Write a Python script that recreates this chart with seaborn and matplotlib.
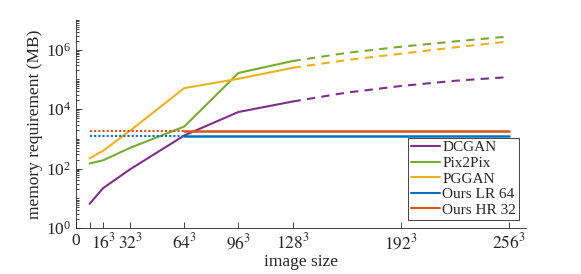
import matplotlib
matplotlib.use("Agg")
import matplotlib.pyplot as plt
from matplotlib.ticker import LogLocator, NullFormatter
import seaborn as sns

# image side length (x axis is linear in side length, labelled as n^3)
sizes_measured = [8, 16, 32, 64, 96, 128]
sizes_projected = [128, 160, 192, 224, 256]

dcgan = [6.5, 22, 95, 1300, 8000, 18000]
dcgan_proj = [18000, 36000, 60000, 90000, 120000]
pix2pix = [148, 190, 500, 2600, 165000, 415000]
pix2pix_proj = [415000, 780000, 1260000, 1900000, 2800000]
pggan = [220, 400, 1900, 51000, 105000, 245000]
pggan_proj = [245000, 450000, 730000, 1200000, 1900000]

ours_lr = 1200   # Ours LR 64
ours_hr = 1850   # Ours HR 32
ours_start, ours_switch, ours_end = 8, 64, 256

xticks = [0, 8, 16, 32, 64, 96, 128, 192, 256]
xlabels = ["0", "", r"$16^3$", r"$32^3$", r"$64^3$", r"$96^3$",
           r"$128^3$", r"$192^3$", r"$256^3$"]

colors = {"DCGAN": "#7E2F8E", "Pix2Pix": "#77AC30", "PGGAN": "#EDB120",
          "Ours LR 64": "#0072BD", "Ours HR 32": "#D95319"}

sns.set_style("ticks")
plt.rcParams["font.family"] = ["Liberation Serif", "DejaVu Serif"]
plt.rcParams["mathtext.fontset"] = "stix"

fig = plt.figure(figsize=(5.81, 2.74), dpi=100)
ax = fig.add_axes([0.131, 0.168, 0.774, 0.759])

lw = 1.5
handles = []
for name, vals, proj in [("DCGAN", dcgan, dcgan_proj),
                         ("Pix2Pix", pix2pix, pix2pix_proj),
                         ("PGGAN", pggan, pggan_proj)]:
    sns.lineplot(x=sizes_measured, y=vals, color=colors[name], lw=lw, ax=ax)
    sns.lineplot(x=sizes_projected, y=proj, color=colors[name], lw=lw,
                 linestyle=(0, (4, 3)), ax=ax)

for name, val in [("Ours LR 64", ours_lr), ("Ours HR 32", ours_hr)]:
    sns.lineplot(x=[ours_start, ours_switch], y=[val, val], color=colors[name],
                 lw=lw, linestyle=(0, (1, 1)), ax=ax)
    sns.lineplot(x=[ours_switch, ours_end], y=[val, val], color=colors[name],
                 lw=lw + 0.3, ax=ax)

for name in colors:
    handles.append(plt.Line2D([], [], color=colors[name], lw=lw, label=name))

ax.set_yscale("log")
ax.set_ylim(1, 1e7)
ax.set_xlim(0, 266)
ax.set_yticks([1, 1e2, 1e4, 1e6])
ax.yaxis.set_minor_locator(LogLocator(base=10, subs=range(1, 10), numticks=20))
ax.yaxis.set_minor_formatter(NullFormatter())
ax.set_xticks(xticks)
ax.set_xticklabels(xlabels)
ax.tick_params(direction="in", which="both", colors="#262626", labelsize=12.5,
               length=4, width=0.6)
ax.tick_params(which="minor", length=2)
for s in ["top", "right"]:
    ax.spines[s].set_visible(False)
for s in ["left", "bottom"]:
    ax.spines[s].set_color("#262626")
    ax.spines[s].set_linewidth(0.6)

ax.set_xlabel("image size", fontsize=12.5, labelpad=1)
ax.set_ylabel("memory requirement (MB)", fontsize=12.5, labelpad=2)

leg = ax.legend(handles=handles, loc="lower right", bbox_to_anchor=(0.985, 0.04),
                fontsize=11, frameon=True, fancybox=False, framealpha=1,
                handlelength=1.9, handletextpad=0.15, borderpad=0.2,
                labelspacing=0.12, borderaxespad=0)
leg.get_frame().set_edgecolor("#262626")
leg.get_frame().set_linewidth(0.6)

fig.savefig("out.png", dpi=100)
